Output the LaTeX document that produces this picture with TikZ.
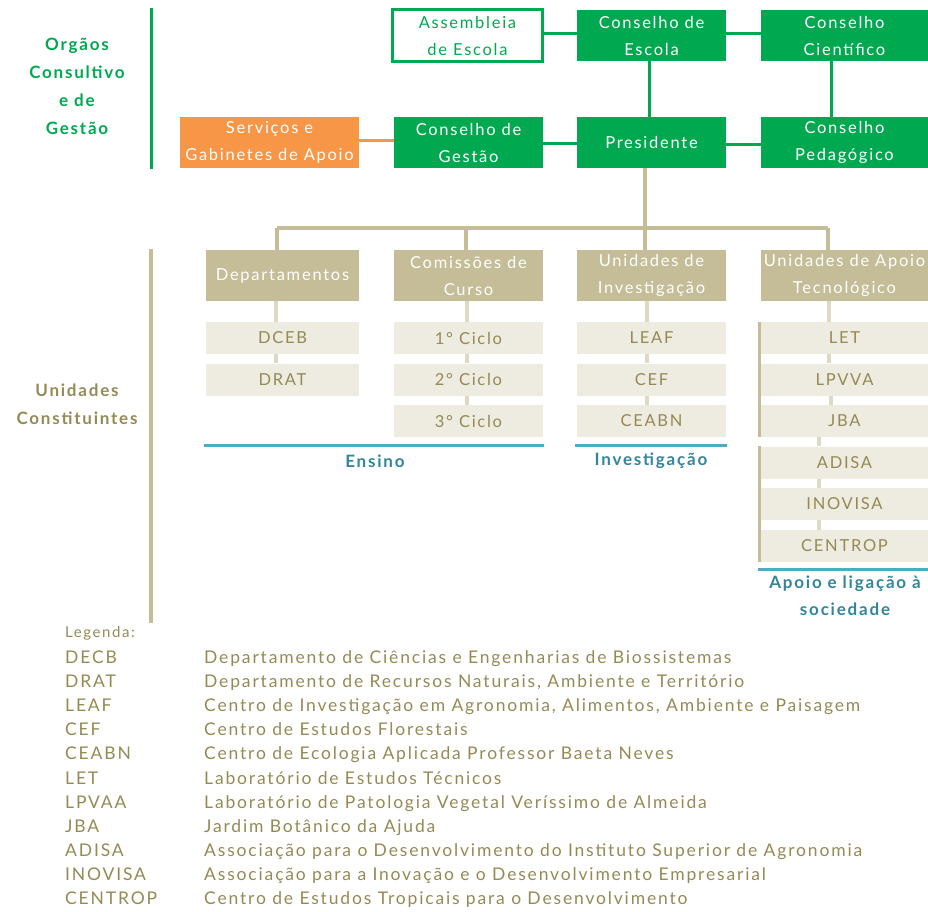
\documentclass[tikz,border=0pt]{standalone}
\usepackage{fontspec}
\setmainfont{Lato}[LetterSpace=10.5]
\definecolor{gr}{RGB}{0,168,80}
\definecolor{orng}{RGB}{247,150,70}
\definecolor{tan}{RGB}{196,189,151}
\definecolor{ltan}{RGB}{238,235,225}
\definecolor{ctan}{RGB}{221,217,195}
\definecolor{dtan}{RGB}{148,138,84}
\definecolor{tealline}{RGB}{75,172,198}
\definecolor{tealtxt}{RGB}{49,133,156}
\newcommand{\bxfont}{\fontsize{16.5}{27}\selectfont}
\newcommand{\lgfont}{\fontsize{17.5}{24}\selectfont}
\begin{document}
\begin{tikzpicture}[x=1pt,y=-1pt,
  box/.style={inner sep=0pt, align=center, font=\bxfont},
  gbox/.style={box, fill=gr, text=white, minimum height=51},
  obox/.style={box, fill=orng, text=white, minimum height=51},
  wbox/.style={box, draw=gr, line width=3pt, fill=white, text=gr},
  hbox/.style={box, fill=tan, text=white, minimum height=51},
  sbox/.style={box, fill=ltan, text=dtan, minimum height=32},
  gline/.style={draw=gr, line width=3pt},
  oline/.style={draw=orng, line width=3pt},
  tline/.style={draw=tan, line width=4pt},
  cline/.style={draw=ctan, line width=4pt},
  bline/.style={draw=tealline, line width=3pt},
  lbl/.style={inner sep=0pt, align=center, font=\bfseries\fontsize{17}{28}\selectfont},
  grp/.style={inner sep=0pt, align=center, text=tealtxt, font=\bfseries\fontsize{17}{27}\selectfont},
  leg/.style={inner sep=0pt, anchor=mid west, text=dtan, font=\lgfont},
]
\useasboundingbox (0,0) rectangle (928,911);

% ---- top section ----
\draw[gline] (151,8) coordinate (gt) -- (151,169) coordinate (gb);
\node[lbl, text=gr] (og) at (77,86) {Orgãos\\Consultivo\\e de\\Gestão};

\node[wbox, minimum width=150, minimum height=52] (asm) at (467.5,35.5) {Assembleia\\de Escola};
\node[gbox, minimum width=149] (ce) at (651.5,35.5) {Conselho de\\Escola};
\node[gbox, minimum width=167] (cc) at (844.5,35.5) {Conselho\\Científico};
\node[obox, minimum width=179] (sga) at (269.5,142.5) {Serviços e\\Gabinetes de Apoio};
\node[gbox, minimum width=149] (cg) at (468.5,142.5) {Conselho de\\Gestão};
\node[gbox, minimum width=149] (pres) at (651.5,142.5) {Presidente};
\node[gbox, minimum width=167] (cp) at (844.5,142.5) {Conselho\\Pedagógico};

\draw[gline] (asm.east |- 0,33) -- (ce.west |- 0,33);
\draw[gline] (ce.east |- 0,33) -- (cc.west |- 0,33);
\draw[gline] (ce.south -| 649,0) -- (pres.north -| 649,0);
\draw[gline] (cc.south -| 831,0) -- (cp.north -| 831,0);
\draw[gline] (cg.east |- 0,143) -- (pres.west |- 0,143);
\draw[gline] (pres.east |- 0,144) -- (cp.west |- 0,144);
\draw[oline] (sga.east |- 0,140) -- (cg.west |- 0,140);

% ---- units section ----
\draw[tline] (151,249) -- (151,623);
\node[lbl, text=dtan] (uc) at (77,404) {Unidades\\Constituintes};

\node[hbox, minimum width=153] (dep) at (282.5,275.5) {Departamentos};
\node[hbox, minimum width=149] (com) at (468.5,275.5) {Comissões de\\Curso};
\node[hbox, minimum width=149] (ui) at (651.5,275.5) {Unidades de\\Investigação};
\node[hbox, minimum width=167] (ua) at (844.5,275.5) {Unidades de Apoio\\Tecnológico};

% tree from Presidente
\coordinate (j) at (645,228);
\draw[tline] (pres.south -| j) -- (j);
\draw[tline] (277,228) -- (828,228);
\draw[tline] (277,228) -- (dep.north -| 277,0);
\draw[tline] (466,228) -- (com.north -| 466,0);
\draw[tline] (645,228) -- (ui.north -| 645,0);
\draw[tline] (828,228) -- (ua.north -| 828,0);

% sub boxes
\node[sbox, minimum width=153] (dceb) at (282.5,338) {DCEB};
\node[sbox, minimum width=153] (drat) at (282.5,379.5) {DRAT};
\node[sbox, minimum width=149] (c1) at (468.5,338) {1° Ciclo};
\node[sbox, minimum width=149] (c2) at (468.5,379.5) {2° Ciclo};
\node[sbox, minimum width=149] (c3) at (468.5,421) {3° Ciclo};
\node[sbox, minimum width=149] (leaf) at (651.5,338) {LEAF};
\node[sbox, minimum width=149] (cef) at (651.5,379.5) {CEF};
\node[sbox, minimum width=149] (ceabn) at (651.5,421) {CEABN};
\node[sbox, minimum width=167] (let) at (844.5,338) {LET};
\node[sbox, minimum width=167] (lpvva) at (844.5,379.5) {LPVVA};
\node[sbox, minimum width=167] (jba) at (844.5,421) {JBA};
\node[sbox, minimum width=167] (adisa) at (844.5,462.5) {ADISA};
\node[sbox, minimum width=167] (inovisa) at (844.5,504) {INOVISA};
\node[sbox, minimum width=167] (centrop) at (844.5,546) {CENTROP};

\draw[cline] (dep.south -| 276,0) -- (dceb.north -| 276,0);
\draw[cline] (dceb.south -| 276,0) -- (drat.north -| 276,0);
\draw[cline] (com.south -| 467,0) -- (c1.north -| 467,0);
\draw[cline] (c1.south -| 467,0) -- (c2.north -| 467,0);
\draw[cline] (c2.south -| 467,0) -- (c3.north -| 467,0);
\draw[cline] (ui.south -| 647,0) -- (leaf.north -| 647,0);
\draw[cline] (leaf.south -| 647,0) -- (cef.north -| 647,0);
\draw[cline] (cef.south -| 647,0) -- (ceabn.north -| 647,0);
\draw[cline] (ua.south -| 829,0) -- (let.north -| 829,0);
\draw[cline] (let.south -| 829,0) -- (lpvva.north -| 829,0);
\draw[cline] (lpvva.south -| 831,0) -- (jba.north -| 831,0);
\draw[cline] (jba.south -| 819,0) -- (adisa.north -| 819,0);
\draw[cline] (adisa.south -| 819,0) -- (inovisa.north -| 819,0);
\draw[cline] (inovisa.south -| 819,0) -- (centrop.north -| 819,0);

% left brackets of column 4
\draw[draw=tan, line width=3pt] (let.north -| 759,0) -- (jba.south -| 759,0);
\draw[draw=tan, line width=3pt] (adisa.north -| 759,0) -- (centrop.south -| 759,0);

% group underlines
\draw[bline] (204,445) -- (544,445);
\node[grp] (ens) at (375,461) {Ensino};
\draw[bline] (575,445) -- (727,445);
\node[grp] (inv) at (651,461) {Investigação};
\draw[bline] (758,569) -- (928,569);
\node[grp] (apo) at (845,596) {Apoio e ligação à\\sociedade};

% ---- legend ----
\node[leg, font=\fontsize{15}{20}\selectfont] (lg) at (65,635) {Legenda:};
\node[leg] (a1) at (65,661) {DECB};
\node[leg] (b1) at (204,661) {Departamento de Ciências e Engenharias de Biossistemas};
\node[leg] (a2) at (65,685) {DRAT};
\node[leg] (b2) at (204,685) {Departamento de Recursos Naturais, Ambiente e Território};
\node[leg] (a3) at (65,709) {LEAF};
\node[leg] (b3) at (204,709) {Centro de Investigação em Agronomia, Alimentos, Ambiente e Paisagem};
\node[leg] (a4) at (65,733) {CEF};
\node[leg] (b4) at (204,733) {Centro de Estudos Florestais};
\node[leg] (a5) at (65,757) {CEABN};
\node[leg] (b5) at (204,757) {Centro de Ecologia Aplicada Professor Baeta Neves};
\node[leg] (a6) at (65,782) {LET};
\node[leg] (b6) at (204,782) {Laboratório de Estudos Técnicos};
\node[leg] (a7) at (65,806) {LPVAA};
\node[leg] (b7) at (204,806) {Laboratório de Patologia Vegetal Veríssimo de Almeida};
\node[leg] (a8) at (65,830) {JBA};
\node[leg] (b8) at (204,830) {Jardim Botânico da Ajuda};
\node[leg] (a9) at (65,854) {ADISA};
\node[leg] (b9) at (204,854) {Associação para o Desenvolvimento do Instituto Superior de Agronomia};
\node[leg] (a10) at (65,878) {INOVISA};
\node[leg] (b10) at (204,878) {Associação para a Inovação e o Desenvolvimento Empresarial};
\node[leg] (a11) at (65,902) {CENTROP};
\node[leg] (b11) at (204,902) {Centro de Estudos Tropicais para o Desenvolvimento};
\end{tikzpicture}
\end{document}
